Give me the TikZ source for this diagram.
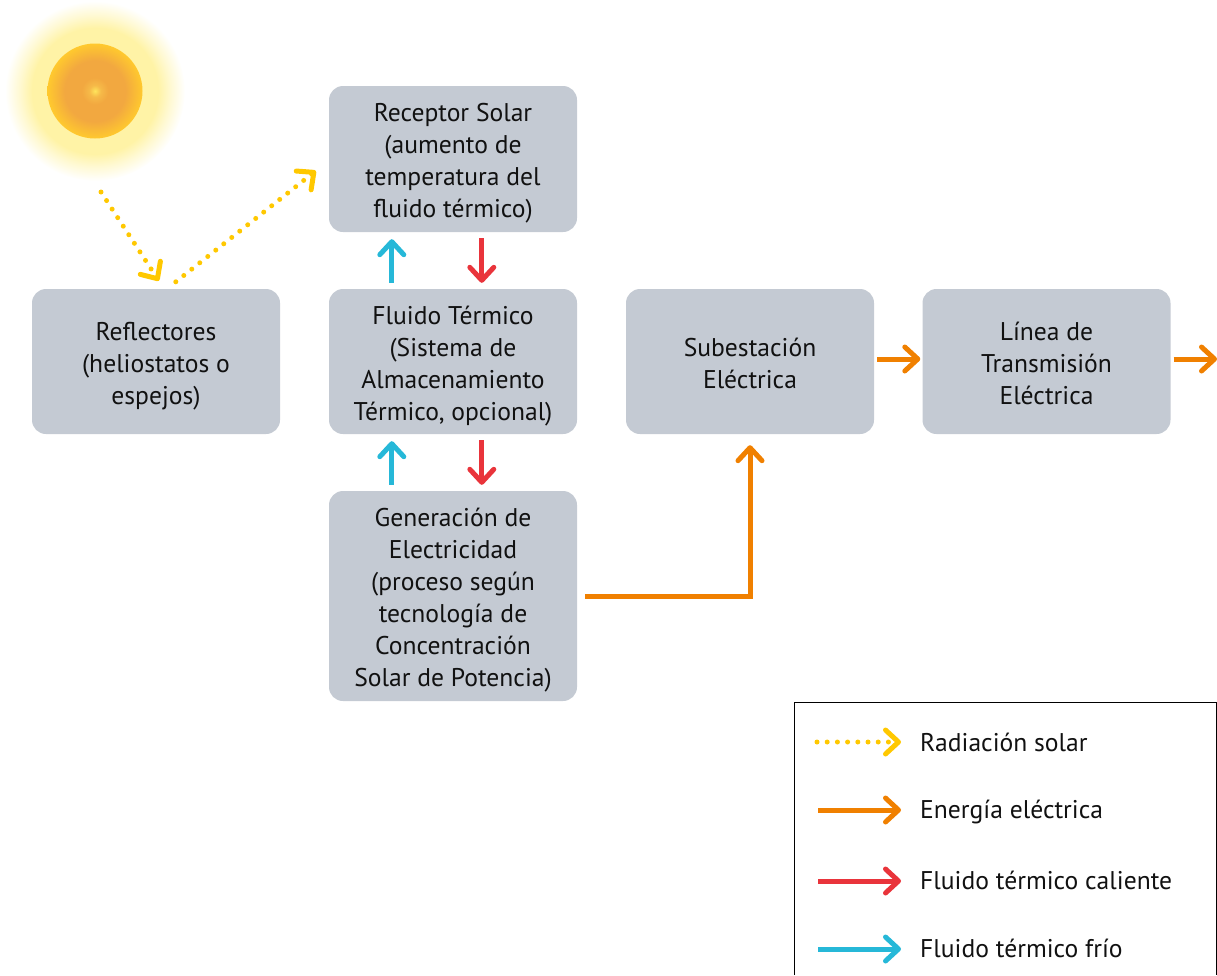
\documentclass[tikz,border=0pt]{standalone}
\usepackage{fontspec}
\setmainfont{PT Sans}
\usetikzlibrary{arrows.meta}
\definecolor{boxgray}{HTML}{C4CAD3}
\definecolor{solar}{HTML}{FFC800}
\definecolor{elec}{HTML}{F08000}
\definecolor{hot}{HTML}{E9343B}
\definecolor{cold}{HTML}{26B8D8}
\definecolor{ink}{HTML}{111111}
\definecolor{sa}{HTML}{FFE45C}\definecolor{sb}{HTML}{F2A840}\definecolor{sc}{HTML}{FFC92E}
\definecolor{ga}{HTML}{FFF3A6}
\pgfdeclareradialshading{suncoretwo}{\pgfpoint{0bp}{0bp}}{color(0bp)=(sa);color(3bp)=(sb!70!sa);color(7bp)=(sb);color(16bp)=(sb);color(25bp)=(sc);color(50bp)=(sc)}
\pgfdeclareradialshading{sunglow}{\pgfpoint{0bp}{0bp}}{color(0bp)=(ga);color(17.5bp)=(ga);color(21bp)=(ga!50!white);color(25bp)=(white);color(50bp)=(white)}
\newcommand{\toppad}{\rule{0pt}{29pt}}
\newcommand{\botpad}{\rule[-8pt]{0pt}{8pt}}
\tikzset{
  x=1pt,y=-1pt,
  flow/.style={rounded corners=14pt,fill=boxgray,text=ink,align=center,inner sep=0pt,minimum width=248pt,
    font=\fontsize{25.6}{32}\selectfont},
  legtext/.style={anchor=base west,inner sep=0pt,text=ink,font=\fontsize{25.6}{32}\selectfont},
  barb/.style={-{Straight Barb[length=13pt,width=24pt,line width=5pt,round=false]}},
  arrowline/.style={line width=5pt,barb},
  solarflow/.style={arrowline,color=solar,line cap=round,dash pattern=on 0pt off 10.2pt},
  elecflow/.style={arrowline,color=elec},
  hotflow/.style={arrowline,color=hot},
  coldflow/.style={arrowline,color=cold},
}
\begin{document}
\begin{tikzpicture}
\useasboundingbox (0,0) rectangle (1217,975);
\clip (0,0) rectangle (1217,975);
% sun
\shade[shading=sunglow] (95,91) circle (90);
\shade[shading=suncoretwo] (95,91) circle (47.5);
% boxes
\node[flow,minimum height=146pt] (rec) at (453,159) {\toppad Receptor Solar\\(aumento de\\temperatura del\\fluido térmico)\botpad};
\node[flow,minimum height=145pt] (ref) at (156,361.5) {\toppad Reflectores\\(heliostatos o\\espejos)\botpad};
\node[flow,minimum height=145pt] (flu) at (453,361.5) {\toppad Fluido Térmico\\(Sistema de\\Almacenamiento\\Térmico, opcional)\botpad};
\node[flow,minimum height=145pt] (sub) at (750,361.5) {\toppad Subestación\\Eléctrica\botpad};
\node[flow,minimum height=145pt] (lin) at (1046.5,361.5) {\toppad Línea de\\Transmisión\\Eléctrica\botpad};
\node[flow,minimum height=210pt] (gen) at (453,596) {\toppad Generación de\\Electricidad\\(proceso según\\tecnología de\\Concentración\\Solar de Potencia)\botpad};
\coordinate (sunray) at (101,192);
\coordinate (exit) at (1217,359);
% flows
\draw[solarflow] (sunray) -- ([xshift=127pt,yshift=8pt]ref.north west);
\draw[solarflow] ([xshift=144pt,yshift=7pt]ref.north west) -- ([xshift=-13pt,yshift=-85pt]rec.north west);
\draw[coldflow] ([xshift=63pt,yshift=6pt]flu.north west) -- ([xshift=63pt,yshift=-7pt]rec.south west);
\draw[hotflow] ([xshift=153pt,yshift=-6pt]rec.south west) -- ([xshift=153pt,yshift=6pt]flu.north west);
\draw[coldflow] ([xshift=63pt,yshift=6pt]gen.north west) -- ([xshift=63pt,yshift=-7pt]flu.south west);
\draw[hotflow] ([xshift=153pt,yshift=-6pt]flu.south west) -- ([xshift=153pt,yshift=6pt]gen.north west);
\draw[elecflow] ([xshift=8pt]gen.east) -| ([yshift=-11pt]sub.south);
\draw[elecflow] ([xshift=3pt,yshift=2.5pt]sub.east) -- ([xshift=-2pt,yshift=2.5pt]lin.west);
\draw[elecflow] ([xshift=3pt,yshift=2.5pt]lin.east) -- (exit);
% legend
\draw[black,line width=1pt] (794,975) -- (794,702.5) -- (1216.5,702.5) -- (1216.5,975);
\node[legtext] (l1) at (920,751) {Radiación solar};
\node[legtext] (l2) at (920,818.5) {Energía eléctrica};
\node[legtext] (l3) at (920,889) {Fluido térmico caliente};
\node[legtext] (l4) at (920,957) {Fluido térmico frío};
\coordinate (s1) at (817,742);
\coordinate (s2) at (818,810);
\coordinate (s3) at (818,881);
\coordinate (s4) at (818,949);
\coordinate (t1) at ([xshift=-19pt]l1.west);
\coordinate (t2) at ([xshift=-19pt]l2.west);
\coordinate (t3) at ([xshift=-19pt]l3.west);
\coordinate (t4) at ([xshift=-19pt]l4.west);
\draw[solarflow] (s1) -- (s1 -| t1);
\draw[elecflow] (s2) -- (s2 -| t2);
\draw[hotflow] (s3) -- (s3 -| t3);
\draw[coldflow] (s4) -- (s4 -| t4);
\end{tikzpicture}
\end{document}
